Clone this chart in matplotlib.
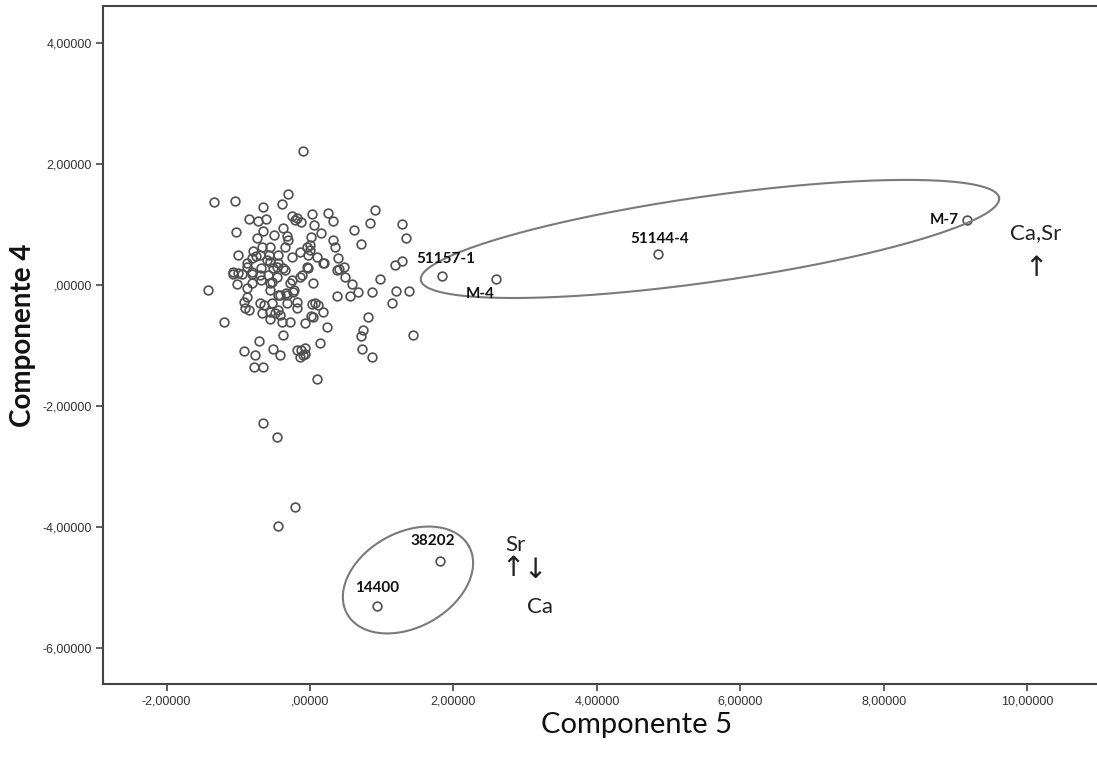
import numpy as np
import matplotlib
matplotlib.use('agg')
import matplotlib.pyplot as plt

# component scores (Componente 5, Componente 4) of the unlabelled samples
comp5 = [-0.10, -1.34, -1.05, -0.31, -0.66, -0.39, -0.85, -0.72, -0.61, -0.25,
         -0.18, -0.13, -0.21, 0.03, 0.25, 0.32, 0.06, 0.15, -0.38, -1.03,
         -0.66, -0.50, -0.74, -0.32, 0.61, 0.84, 0.91, 1.28, 1.34, 0.71,
         0.32, 0.35, 0.01, 0.00, -0.31, -0.35, -0.45, -0.56, -0.67, -0.79,
         -1.00, -0.14, -0.04, 0.10, 0.18, 0.39, 0.40, 0.47, 0.49, 0.59,
         0.67, 0.56, 0.38, 0.86, 0.98, 1.18, 1.28, 1.20, 1.38, 1.14,
         1.44, 0.81, 0.74, 0.71, 0.72, 0.86, -1.42, -1.20, -1.07, -1.02,
         -0.88, -0.81, -0.88, -0.81, -0.88, -0.88, -0.92, -0.91, -0.85, -0.70,
         -0.67, -0.56, -0.45, -0.42, -0.39, -0.56, -0.28, -0.38, -0.71, -0.92,
         -0.77, -0.66, -0.78, -0.52, -0.42, -0.18, -0.07, -0.14, -0.07, 0.14,
         -0.07, 0.04, 0.18, 0.24, 0.07, 0.11, -0.32, -0.18, -0.18, -0.32,
         -0.42, -0.22, -0.28, -0.14, -0.04, 0.04, 0.20, -0.35, -0.46, -0.56,
         -0.70, -0.68, -0.59, -0.46, -0.56, -0.68, -0.81, -0.56, -0.45, -0.95,
         -1.07, -0.60, -0.52, -0.64, -0.53, -0.49, 0.38, 0.10, -0.66, -0.46,
         -0.21, -0.45, -0.03, 0.00, -0.25, -0.11, -0.25, -0.38, -0.53, -0.70,
         -0.81, -1.00, -0.33, -0.24, -0.75, -0.57, -0.45, -0.03, 0.03, 0.01,
         -0.13, -0.10]
comp4 = [2.21, 1.37, 1.39, 1.50, 1.29, 1.34, 1.09, 1.06, 1.09, 1.14,
         1.11, 1.04, 1.07, 1.17, 1.19, 1.06, 0.99, 0.86, 0.94, 0.88,
         0.89, 0.83, 0.78, 0.81, 0.91, 1.02, 1.24, 1.01, 0.78, 0.68,
         0.74, 0.63, 0.79, 0.66, 0.74, 0.63, 0.50, 0.63, 0.63, 0.56,
         0.50, 0.55, 0.63, 0.46, 0.36, 0.45, 0.26, 0.30, 0.13, 0.02,
         -0.12, -0.18, -0.18, -0.12, 0.10, 0.33, 0.40, -0.10, -0.10, -0.30,
         -0.83, -0.53, -0.74, -0.84, -1.06, -1.19, -0.08, -0.61, 0.21, 0.02,
         0.36, 0.45, 0.30, 0.18, -0.05, -0.20, -0.28, -0.38, -0.41, -0.30,
         -0.46, -0.45, -0.41, -0.50, -0.61, -0.56, -0.61, -0.83, -0.93, -1.09,
         -1.16, -1.36, -1.36, -1.06, -1.16, -1.07, -1.04, -1.19, -1.14, -0.96,
         -0.63, -0.53, -0.45, -0.69, -0.30, -0.33, -0.30, -0.28, -0.38, -0.17,
         -0.17, -0.08, 0.03, 0.13, 0.30, 0.03, 0.36, 0.25, 0.30, 0.38,
         0.50, 0.28, 0.17, 0.13, 0.03, 0.08, 0.03, -0.08, -0.17, 0.18,
         0.18, 0.41, 0.28, -0.33, -0.30, -0.46, 0.25, -1.55, -2.28, -2.51,
         -3.67, -3.98, 0.50, 0.58, 0.46, 0.17, 0.08, 0.28, 0.05, 0.17,
         0.21, 0.20, -0.13, -0.12, 0.48, 0.50, 0.36, 0.28, -0.31, -0.51,
         -1.07, -1.16]

# labelled samples
labels = ['51157-1', 'M-4', '51144-4', 'M-7', '38202', '14400']
lab_x = [1.84, 2.59, 4.85, 9.16, 1.81, 0.93]
lab_y = [0.15, 0.10, 0.51, 1.07, -4.56, -5.31]

plt.rcParams['font.family'] = ['Liberation Sans', 'DejaVu Sans']
fig = plt.figure(figsize=(10.97, 7.58), dpi=100)
ax = fig.add_axes([0.0939, 0.0976, 0.9061, 0.8945])

mk = dict(marker='o', ls='none', mfc='none', mec='#505050', ms=6.3, mew=1.2)
ax.plot(comp5, comp4, **mk)
ax.plot(lab_x, lab_y, **mk)

# label offsets in points
offs = [(3, 12), (-11, -11), (1, 11), (-6, 0), (-5, 14), (0, 13)]
has = ['center', 'center', 'center', 'right', 'center', 'center']
for t, x, y, o, h in zip(labels, lab_x, lab_y, offs, has):
    ax.annotate(t, (x, y), xytext=o, textcoords='offset points', ha=h, va='center',
                fontsize=11, fontweight='bold', family='Lato', color='#111111')

# group ellipses: centre, half-axis vectors
def ellipse(c, u, v):
    t = np.linspace(0, 2 * np.pi, 400)
    ex = c[0] + u[0] * np.cos(t) + v[0] * np.sin(t)
    ey = c[1] + u[1] * np.cos(t) + v[1] * np.sin(t)
    ax.plot(ex, ey, color='#7a7a7a', lw=1.5)

ellipse((5.575, 0.76), (4.03, 0.68), (-0.09, 0.70))
ellipse((1.366, -4.876), (0.849, 0.559), (-0.321, 0.684))

tkw = dict(fontsize=16, family='Lato', color='#222222')
ax.text(10.12, 0.86, 'Ca,Sr', ha='center', va='center', **tkw)
ax.text(10.12, 0.28, '\u2191', ha='center', va='center', fontsize=20, family='DejaVu Sans', color='#222222')
ax.text(2.86, -4.30, 'Sr', ha='center', va='center', **tkw)
ax.text(2.83, -4.68, '\u2191', ha='center', va='center', fontsize=20, family='DejaVu Sans', color='#222222')
ax.text(3.14, -4.71, '\u2193', ha='center', va='center', fontsize=20, family='DejaVu Sans', color='#222222')
ax.text(3.21, -5.32, 'Ca', ha='center', va='center', **tkw)

ax.set_xlim(-2.885, 10.97)
ax.set_ylim(-6.595, 4.61)
ax.set_xticks(np.arange(-2, 11, 2))
ax.set_yticks(np.arange(-6, 5, 2))

def fmt(v):
    s = '%.5f' % v
    s = s.replace('.', ',')
    if s.startswith('0,'):
        s = s[1:]
    return s

ax.set_xticklabels([fmt(v) for v in ax.get_xticks()])
ax.set_yticklabels([fmt(v) for v in ax.get_yticks()])
ax.tick_params(direction='out', length=5, width=1.2, color='#444444',
               labelsize=9, labelcolor='#333333', pad=3)
for s in ['left', 'bottom', 'top']:
    ax.spines[s].set_color('#444444')
    ax.spines[s].set_linewidth(1.5)
ax.spines['right'].set_visible(False)

ax.set_xlabel('Componente 5', fontsize=21, family='Lato', color='#111111')
ax.xaxis.set_label_coords(0.537, -0.042)
ax.set_ylabel('Componente 4', fontsize=20, family='Lato', fontweight='bold', color='#111111')
ax.yaxis.set_label_coords(-0.067, 0.515)

fig.savefig('out.png', dpi=100)
